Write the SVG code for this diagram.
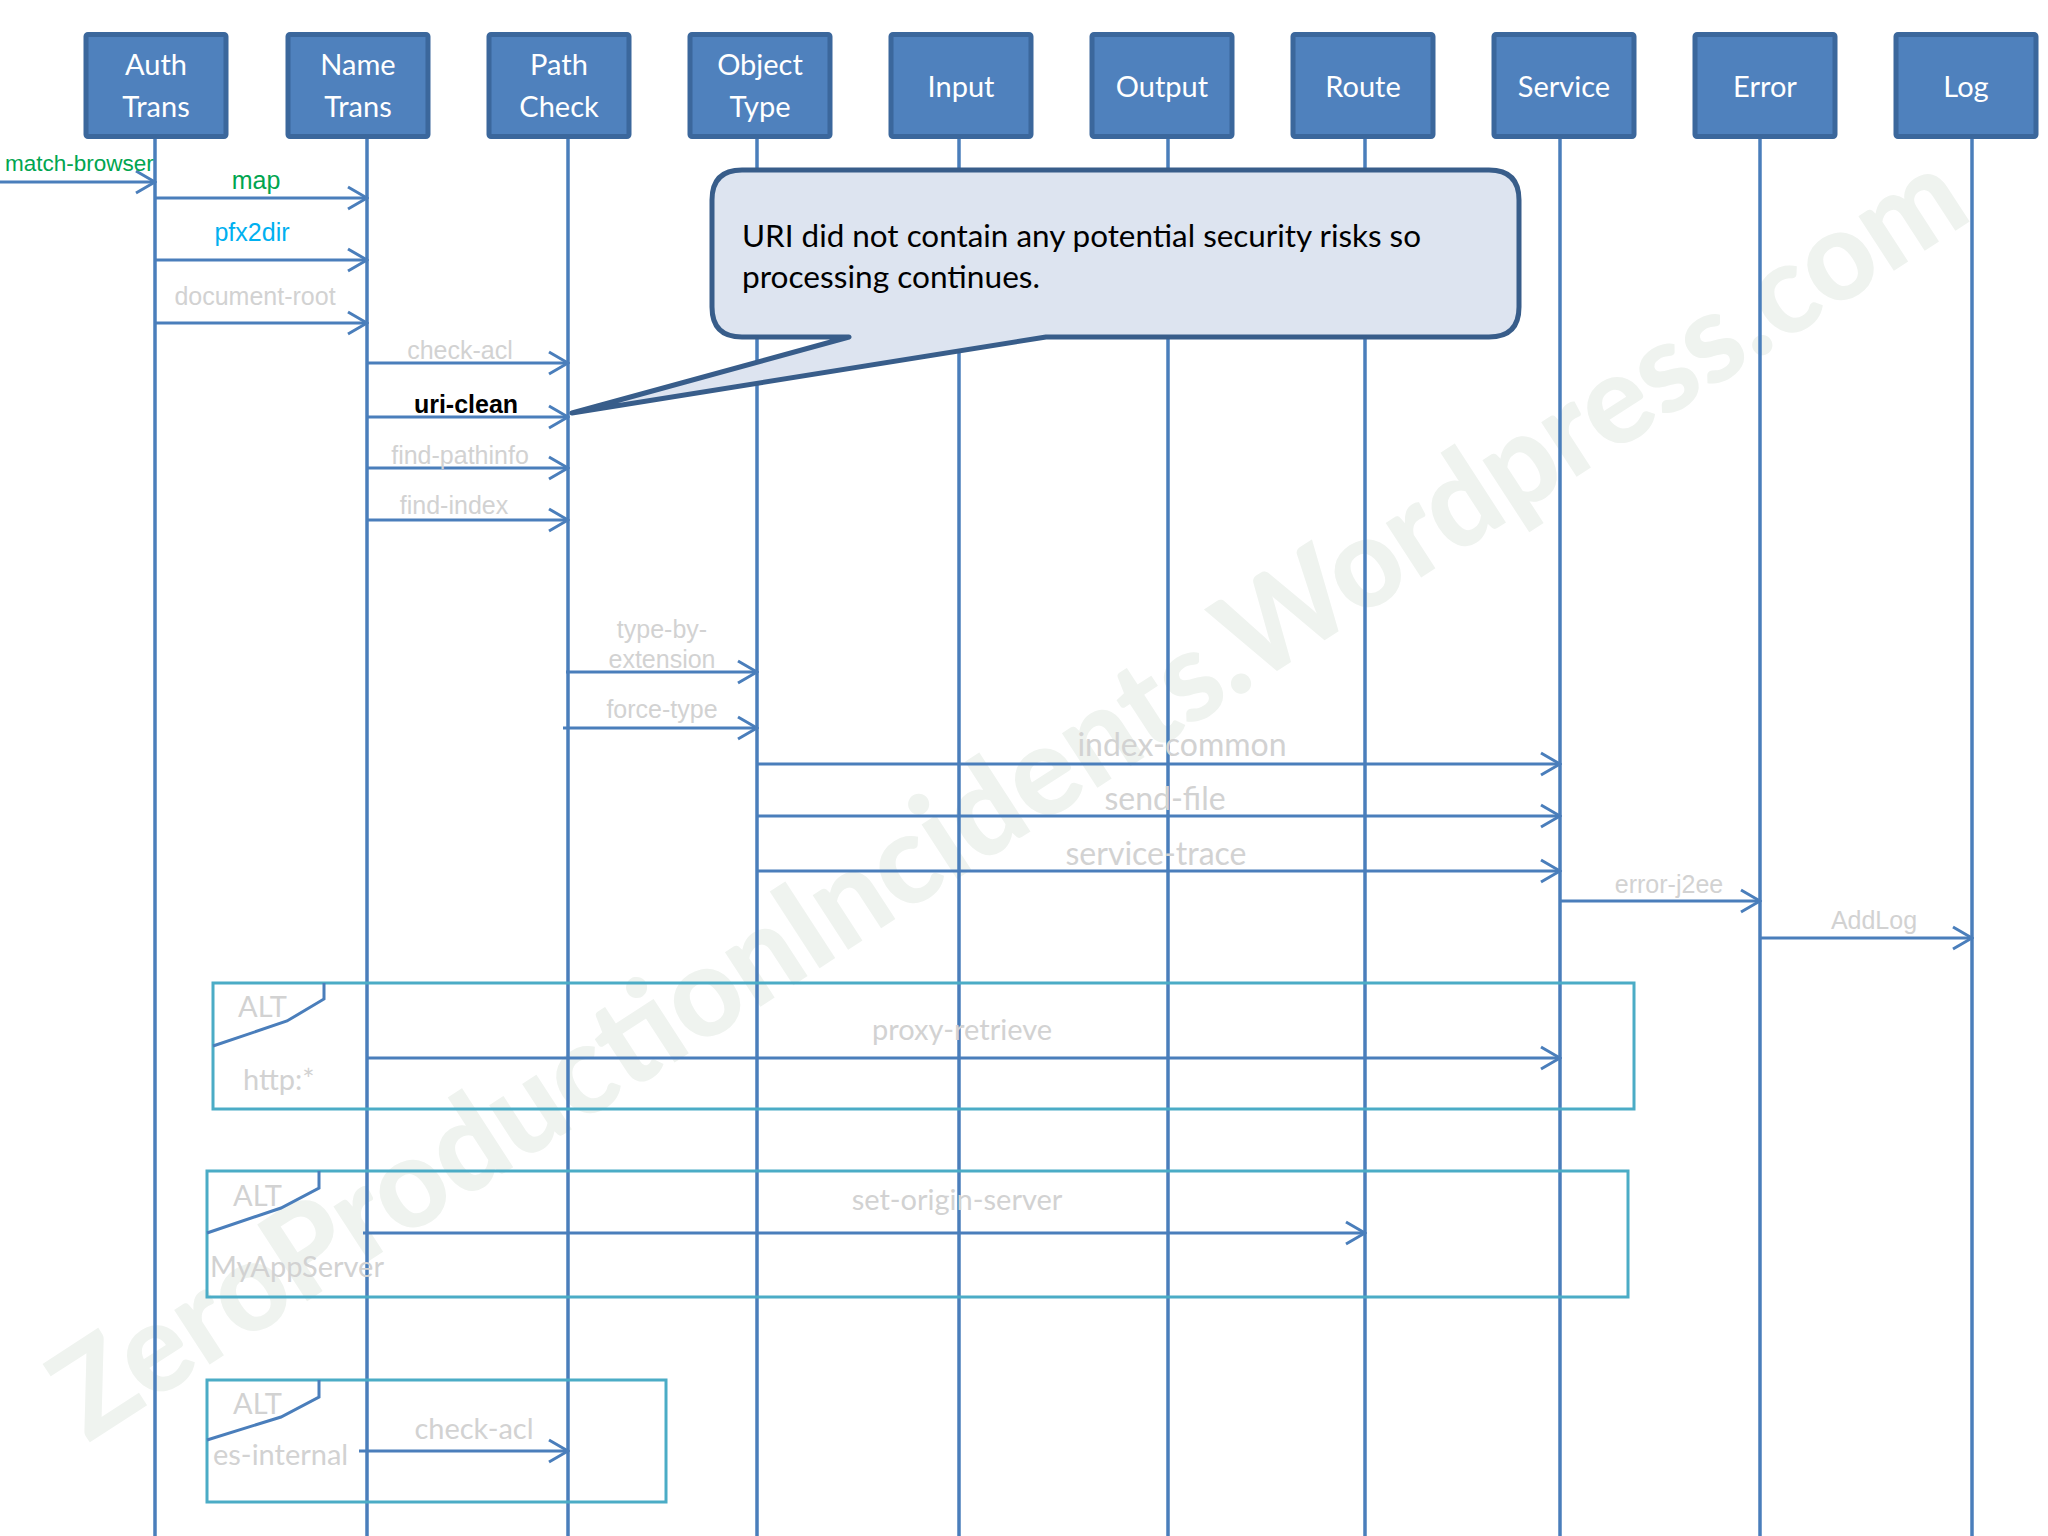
<svg xmlns="http://www.w3.org/2000/svg" width="2048" height="1536" viewBox="0 0 2048 1536">
  <style>
    .box { fill: #4f81bd; stroke: #3b679c; stroke-width: 5; }
    .boxtxt { font-family: Lato, "Open Sans", sans-serif; font-size: 29px; fill: #ffffff; text-anchor: middle; }
    .life { stroke: #4a7ebb; stroke-width: 3.5; fill: none; }
    .msg { stroke: #4a7ebb; stroke-width: 3; fill: none; marker-end: url(#arr); }
    .lbl { font-family: "Liberation Sans", Arial, sans-serif; font-size: 25px; fill: #d2d2d2; text-anchor: middle; }
    .lblc { font-family: Lato, "Open Sans", sans-serif; font-size: 29px; fill: #d2d2d2; text-anchor: middle; }
    .frame { fill: none; stroke: #4bacc6; stroke-width: 3; }
    .tag { fill: none; stroke: #4a7ebb; stroke-width: 3; }
    .ftxt { font-family: Lato, "Open Sans", sans-serif; font-size: 29px; fill: #d2d2d2; }
    .note { fill: #dde4f0; stroke: #385d8a; stroke-width: 5; stroke-linejoin: round; }
    .notetxt { font-family: Lato, "Open Sans", sans-serif; font-size: 30px; fill: #000000; }
  </style>
  <defs>
    <marker id="arr" viewBox="-21 -13 23 26" refX="0" refY="0" markerWidth="23" markerHeight="26" markerUnits="userSpaceOnUse" orient="auto">
      <path d="M-19,-11 L0,0 L-19,11" fill="none" stroke="#4a7ebb" stroke-width="3"/>
    </marker>
  </defs>
  <rect x="0" y="0" width="2048" height="1536" fill="#ffffff"/>

  <!-- watermark -->
  <text x="1024" y="395" transform="translate(1005 790) rotate(-33) scale(2) translate(-1024 -395)" font-family="Lato, 'Liberation Sans', sans-serif" font-weight="900" font-size="63" fill="#eff3ef" text-anchor="middle" dominant-baseline="central" textLength="1125" lengthAdjust="spacingAndGlyphs">ZeroProductionIncidents.Wordpress.com</text>

  <!-- lifelines -->
  <g id="lifelines">
    <line class="life" x1="155" y1="138" x2="155" y2="1536"/>
    <line class="life" x1="367" y1="138" x2="367" y2="1536"/>
    <line class="life" x1="568" y1="138" x2="568" y2="1536"/>
    <line class="life" x1="757" y1="138" x2="757" y2="1536"/>
    <line class="life" x1="959" y1="138" x2="959" y2="1536"/>
    <line class="life" x1="1168" y1="138" x2="1168" y2="1536"/>
    <line class="life" x1="1365" y1="138" x2="1365" y2="1536"/>
    <line class="life" x1="1560" y1="138" x2="1560" y2="1536"/>
    <line class="life" x1="1760" y1="138" x2="1760" y2="1536"/>
    <line class="life" x1="1972" y1="138" x2="1972" y2="1536"/>
  </g>

  <!-- ALT frames -->
  <g id="alt-http">
    <rect class="frame" x="213" y="983" width="1421" height="126"/>
    <path class="tag" d="M324,983 L324,999 L287,1021 L213,1046"/>
    <text class="ftxt" x="238" y="1017">ALT</text>
    <text class="ftxt" x="243" y="1090">http:*</text>
  </g>
  <g id="alt-myappserver">
    <rect class="frame" x="207" y="1171" width="1421" height="126"/>
    <path class="tag" d="M319,1171 L319,1188 L281,1208 L207,1233"/>
    <text class="ftxt" x="233" y="1206">ALT</text>
    <text class="ftxt" x="210" y="1277">MyAppServer</text>
  </g>
  <g id="alt-es-internal">
    <rect class="frame" x="207" y="1380" width="459" height="122"/>
    <path class="tag" d="M319,1380 L319,1397 L281,1417 L207,1440"/>
    <text class="ftxt" x="233" y="1414">ALT</text>
    <text class="ftxt" x="213" y="1465">es-internal</text>
  </g>

  <!-- connectors -->
  <g id="connectors">
    <line class="msg" x1="0" y1="182" x2="155" y2="182"/>
    <text x="5" y="171" font-family="Liberation Sans, Arial, sans-serif" font-size="22.5" fill="#00a550">match-browser</text>

    <line class="msg" x1="155" y1="198" x2="367" y2="198"/>
    <text class="lbl" x="256" y="189" style="fill:#00a550">map</text>

    <line class="msg" x1="155" y1="260" x2="367" y2="260"/>
    <text class="lbl" x="252" y="241" style="fill:#00b0f0">pfx2dir</text>

    <line class="msg" x1="155" y1="323" x2="367" y2="323"/>
    <text class="lbl" x="255" y="305">document-root</text>

    <line class="msg" x1="367" y1="363" x2="568" y2="363"/>
    <text class="lbl" x="460" y="359">check-acl</text>

    <line class="msg" x1="367" y1="417" x2="568" y2="417"/>
    <text class="lbl" x="466" y="413" font-weight="bold" style="fill:#000000">uri-clean</text>

    <line class="msg" x1="367" y1="468" x2="568" y2="468"/>
    <text class="lbl" x="460" y="464">find-pathinfo</text>

    <line class="msg" x1="367" y1="520" x2="568" y2="520"/>
    <text class="lbl" x="454" y="514">find-index</text>

    <line class="msg" x1="566" y1="672" x2="757" y2="672"/>
    <text class="lbl" x="662" y="638">type-by-</text>
    <text class="lbl" x="662" y="668">extension</text>

    <line class="msg" x1="563" y1="728" x2="757" y2="728"/>
    <text class="lbl" x="662" y="718">force-type</text>

    <line class="msg" x1="757" y1="764" x2="1560" y2="764"/>
    <text class="lblc" x="1182" y="756" style="font-size:32px">index-common</text>

    <line class="msg" x1="757" y1="816" x2="1560" y2="816"/>
    <text class="lblc" x="1165" y="810" style="font-size:32px">send-file</text>

    <line class="msg" x1="757" y1="871" x2="1560" y2="871"/>
    <text class="lblc" x="1156" y="865" style="font-size:32px">service-trace</text>

    <line class="msg" x1="1560" y1="901" x2="1760" y2="901"/>
    <text class="lbl" x="1669" y="893">error-j2ee</text>

    <line class="msg" x1="1760" y1="938" x2="1972" y2="938"/>
    <text class="lbl" x="1874" y="929">AddLog</text>

    <line class="msg" x1="367" y1="1058" x2="1560" y2="1058"/>
    <text class="lblc" x="962" y="1040">proxy-retrieve</text>

    <line class="msg" x1="363" y1="1233" x2="1365" y2="1233"/>
    <text class="lblc" x="957" y="1210">set-origin-server</text>

    <line class="msg" x1="359" y1="1451" x2="568" y2="1451"/>
    <text class="lblc" x="474" y="1439">check-acl</text>
  </g>

  <!-- callout note -->
  <g id="note">
    <path class="note" d="M742,170 L1489,170 Q1519,170 1519,200 L1519,307 Q1519,337 1489,337 L1046,337 L572,413 L849,337 L742,337 Q712,337 712,307 L712,200 Q712,170 742,170 Z"/>
    <text class="notetxt" x="742" y="247" textLength="679" lengthAdjust="spacingAndGlyphs">URI did not contain any potential security risks so</text>
    <text class="notetxt" x="742" y="288" textLength="298" lengthAdjust="spacingAndGlyphs">processing continues.</text>
  </g>

  <!-- participant boxes -->
  <g id="auth-trans"><rect class="box" x="86" y="34.5" width="140" height="102" rx="2"/><text class="boxtxt" x="156" y="75">Auth</text><text class="boxtxt" x="156" y="117">Trans</text></g>
  <g id="name-trans"><rect class="box" x="288" y="34.5" width="140" height="102" rx="2"/><text class="boxtxt" x="358" y="75">Name</text><text class="boxtxt" x="358" y="117">Trans</text></g>
  <g id="path-check"><rect class="box" x="489" y="34.5" width="140" height="102" rx="2"/><text class="boxtxt" x="559" y="75">Path</text><text class="boxtxt" x="559" y="117">Check</text></g>
  <g id="object-type"><rect class="box" x="690" y="34.5" width="140" height="102" rx="2"/><text class="boxtxt" x="760" y="75">Object</text><text class="boxtxt" x="760" y="117">Type</text></g>
  <g id="input"><rect class="box" x="891" y="34.5" width="140" height="102" rx="2"/><text class="boxtxt" x="961" y="97">Input</text></g>
  <g id="output"><rect class="box" x="1092" y="34.5" width="140" height="102" rx="2"/><text class="boxtxt" x="1162" y="97">Output</text></g>
  <g id="route"><rect class="box" x="1293" y="34.5" width="140" height="102" rx="2"/><text class="boxtxt" x="1363" y="97">Route</text></g>
  <g id="service"><rect class="box" x="1494" y="34.5" width="140" height="102" rx="2"/><text class="boxtxt" x="1564" y="97">Service</text></g>
  <g id="error"><rect class="box" x="1695" y="34.5" width="140" height="102" rx="2"/><text class="boxtxt" x="1765" y="97">Error</text></g>
  <g id="log"><rect class="box" x="1896" y="34.5" width="140" height="102" rx="2"/><text class="boxtxt" x="1966" y="97">Log</text></g>
</svg>
